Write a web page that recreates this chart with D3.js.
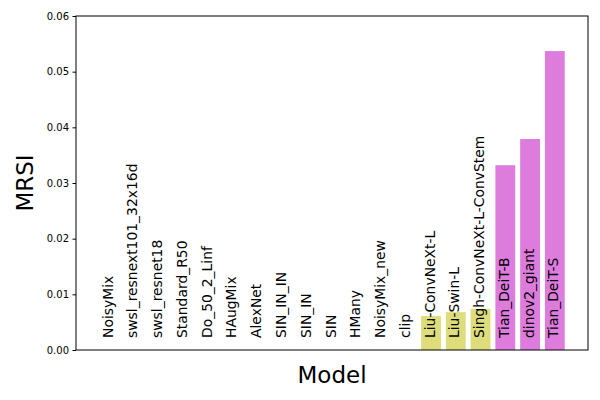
<!DOCTYPE html>
<html>
<head>
<meta charset="utf-8">
<script src="https://cdn.jsdelivr.net/npm/d3@7"></script>
<style>
body { margin: 0; background: white; }
text { font-family: "DejaVu Sans", sans-serif; }
</style>
</head>
<body>
<svg id="chart" width="600" height="400"></svg>
<script>
// data
var models = ["NoisyMix", "swsl_resnext101_32x16d", "swsl_resnet18", "Standard_R50",
	"Do_50_2_Linf", "HAugMix", "AlexNet", "SIN_IN_IN", "SIN_IN", "SIN", "HMany",
	"NoisyMix_new", "clip", "Liu-ConvNeXt-L", "Liu-Swin-L", "Singh-ConvNeXt-L-ConvStem",
	"Tian_DeiT-B", "dinov2_giant", "Tian_DeiT-S"];
var mrsi = [0, 0, 0, 0, 0, 0, 0, 0, 0, 0, 0, 0, 0,
	0.0061, 0.0068, 0.0074, 0.0332, 0.0379, 0.0537];
var groups = ["a", "a", "a", "a", "a", "a", "a", "a", "a", "a", "a", "a", "a",
	"b", "b", "b", "c", "c", "c"];
var yTicks = [0, 0.01, 0.02, 0.03, 0.04, 0.05, 0.06];

var svg = d3.select("#chart");
var padL = 76, padR = 588, padT = 16, padB = 350;

var colour = d3.scaleOrdinal()
	.domain(["a", "b", "c"])
	.range(["#1f77b4", "#dddd7c", "#de7cde"]);

// matplotlib style: bars width 0.8, 5% margin each side
var n = models.length;
var x = d3.scaleLinear()
	.domain([-0.4 - 0.05 * (n - 0.2), n - 1 + 0.4 + 0.05 * (n - 0.2)])
	.range([padL, padR]);
var y = d3.scaleLinear().domain([0, 0.06]).range([padB, padT]);

var bars = svg.selectAll("rect.bar")
	.data(mrsi)
	.enter()
	.append("rect")
	.attr("class", "bar")
	.attr("x", function(d, i) { return x(i - 0.4); })
	.attr("width", function(d, i) { return x(i + 0.4) - x(i - 0.4); })
	.attr("y", function(d) { return y(d); })
	.attr("height", function(d) { return y(0) - y(d); })
	.style("fill", function(d, i) { return colour(groups[i]); });

// labels written inside the plot, rotated
svg.selectAll("text.lab")
	.data(models)
	.enter()
	.append("text")
	.attr("class", "lab")
	.attr("transform", function(d, i)
	{
		return "translate(" + (x(i) + 3.5) + "," + (padB - 12) + ") rotate(-90)";
	})
	.attr("font-size", "13.9px")
	.attr("fill", "black")
	.text(function(d) { return d; });

var yAxis = d3.axisLeft(y)
	.tickValues(yTicks)
	.tickFormat(d3.format(".2f"))
	.tickSize(3.5)
	.tickPadding(3.5);

var gy = svg.append("g")
	.attr("transform", "translate(" + padL + ",0)")
	.call(yAxis);
gy.select(".domain").remove();
gy.selectAll("text").attr("font-size", "10px").attr("font-family", "DejaVu Sans");
gy.selectAll("line").attr("stroke", "black");

// frame
svg.append("rect")
	.attr("x", padL)
	.attr("y", padT)
	.attr("width", padR - padL)
	.attr("height", padB - padT)
	.style("fill", "none")
	.style("stroke", "black")
	.attr("stroke-width", 1);

svg.append("text")
	.attr("transform", "translate(33," + ((padT + padB) / 2) + ") rotate(-90)")
	.attr("text-anchor", "middle")
	.attr("font-size", "23px")
	.text("MRSI");

svg.append("text")
	.attr("x", (padL + padR) / 2)
	.attr("y", 383)
	.attr("text-anchor", "middle")
	.attr("font-size", "23px")
	.text("Model");
</script>
</body>
</html>
